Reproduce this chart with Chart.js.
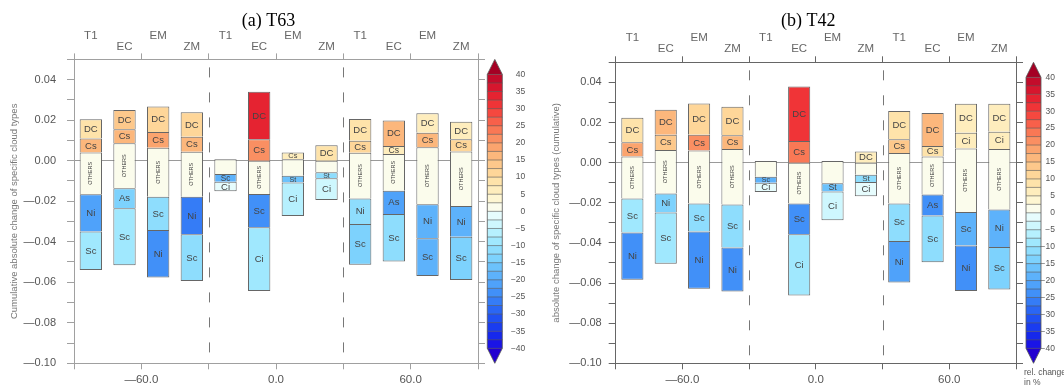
<!DOCTYPE html>
<html>
<head>
<meta charset="utf-8">
<script src="https://cdn.jsdelivr.net/npm/chart.js@4.4.1/dist/chart.umd.min.js"></script>
<style>
html, body { margin: 0; padding: 0; background: #fff; }
#wrap { width: 1064px; height: 386px; display: flex; }
canvas { display: block; }
</style>
</head>
<body>
<div id="wrap">
  <canvas id="cA" width="532" height="386"></canvas>
  <canvas id="cB" width="532" height="386"></canvas>
</div>
<script>
// bar positions (latitude) and the scheme names above them
const lonCenters = [-82.5, -67.5, -52.5, -37.5, -22.5, -7.5, 7.5, 22.5, 37.5, 52.5, 67.5, 82.5];
const schemes = ['T1', 'EC', 'EM', 'ZM', 'T1', 'EC', 'EM', 'ZM', 'T1', 'EC', 'EM', 'ZM'];
const bandEdges = [-30, 30];
const cbLabels = [40, 35, 30, 25, 20, 15, 10, 5, 0, -5, -10, -15, -20, -25, -30, -35, -40];

// colour levels from -40 to 40 in steps of 2.5 (low to high)
const cbColors = [
  '#1A14E6', '#1628EC', '#1A3CF0', '#2050F2', '#2A66F4', '#357CF6', '#4190F8', '#4FA2FA',
  '#5DB2FB', '#6CC2FC', '#7DD2FD', '#8EDDFD', '#A0E8FE', '#B6F0FE', '#CEF7FE', '#E6FCFD',
  '#FBFCEC', '#FEF6D2', '#FEEDBD', '#FEE3AA', '#FED699', '#FDC88B', '#FCB77C', '#FBA46E',
  '#FA8F62', '#F97855', '#F8604A', '#F5483F', '#F03437', '#E52331', '#D6162E', '#C30C2B'
];
const cbUnder = '#2200D0';
const cbOver = '#A50024';

// (a) T63 : cloud types per bar, cumulative edges (top to bottom), relative change in %
const typesT63 = [
  ['DC', 'Cs', 'OTHERS', 'Ni', 'Sc'],
  ['DC', 'Cs', 'OTHERS', 'As', 'Sc'],
  ['DC', 'Cs', 'OTHERS', 'Sc', 'Ni'],
  ['DC', 'Cs', 'OTHERS', 'Ni', 'Sc'],
  ['OTHERS', 'Sc', 'Ci'],
  ['DC', 'Cs', 'OTHERS', 'Sc', 'Ci'],
  ['Cs', 'OTHERS', 'St', 'Ci'],
  ['DC', 'OTHERS', 'St', 'Ci'],
  ['DC', 'Cs', 'OTHERS', 'Ni', 'Sc'],
  ['DC', 'Cs', 'OTHERS', 'As', 'Sc'],
  ['DC', 'Cs', 'OTHERS', 'Ni', 'Sc'],
  ['DC', 'Cs', 'OTHERS', 'Ni', 'Sc']
];
const edgesT63 = [
  [0.0204, 0.0110, 0.0041, -0.0166, -0.0350, -0.0540],
  [0.0250, 0.0155, 0.0086, -0.0136, -0.0235, -0.0516],
  [0.0267, 0.0142, 0.0064, -0.0178, -0.0342, -0.0576],
  [0.0239, 0.0118, 0.0044, -0.0178, -0.0363, -0.0594],
  [0.0007, -0.0066, -0.0104, -0.0151],
  [0.0340, 0.0106, 0.0000, -0.0164, -0.0329, -0.0643],
  [0.0041, 0.0007, -0.0074, -0.0107, -0.0273],
  [0.0076, 0.0000, -0.0057, -0.0087, -0.0194],
  [0.0206, 0.0099, 0.0039, -0.0186, -0.0312, -0.0513],
  [0.0199, 0.0073, 0.0033, -0.0148, -0.0263, -0.0497],
  [0.0234, 0.0138, 0.0066, -0.0215, -0.0383, -0.0569],
  [0.0192, 0.0106, 0.0046, -0.0224, -0.0375, -0.0589]
];
const relT63 = [
  [9, 17, 1, -21, -9],
  [13, 16, 1, -14, -9],
  [11, 19, 1, -12, -25],
  [11, 17, 1, -27, -12],
  [1, -19, -2],
  [33, 21, 1, -24, -9],
  [7, 1, -16, -6],
  [9, 1, -11, -4],
  [9, 11, 1, -11, -14],
  [15, 6, 1, -22, -11],
  [7, 16, 1, -18, -20],
  [7, 11, 1, -19, -14]
];

// (b) T42
const typesT42 = [
  ['DC', 'Cs', 'OTHERS', 'Sc', 'Ni'],
  ['DC', 'Cs', 'OTHERS', 'Ni', 'Sc'],
  ['DC', 'Cs', 'OTHERS', 'Sc', 'Ni'],
  ['DC', 'Cs', 'OTHERS', 'Sc', 'Ni'],
  ['OTHERS', 'Sc', 'Ci'],
  ['DC', 'Cs', 'OTHERS', 'Sc', 'Ci'],
  ['OTHERS', 'St', 'Ci'],
  ['DC', 'OTHERS', 'St', 'Ci'],
  ['DC', 'Cs', 'OTHERS', 'Sc', 'Ni'],
  ['DC', 'Cs', 'OTHERS', 'As', 'Sc'],
  ['DC', 'Ci', 'OTHERS', 'Sc', 'Ni'],
  ['DC', 'Ci', 'OTHERS', 'Ni', 'Sc']
];
const edgesT42 = [
  [0.0224, 0.0101, 0.0030, -0.0179, -0.0348, -0.0584],
  [0.0264, 0.0139, 0.0063, -0.0154, -0.0249, -0.0504],
  [0.0295, 0.0139, 0.0060, -0.0204, -0.0343, -0.0629],
  [0.0279, 0.0137, 0.0068, -0.0209, -0.0423, -0.0642],
  [0.0008, -0.0070, -0.0100, -0.0146],
  [0.0380, 0.0108, 0.0000, -0.0204, -0.0357, -0.0662],
  [0.0008, -0.0103, -0.0144, -0.0287],
  [0.0056, 0.0000, -0.0060, -0.0097, -0.0168],
  [0.0257, 0.0117, 0.0048, -0.0204, -0.0390, -0.0597],
  [0.0247, 0.0083, 0.0030, -0.0159, -0.0264, -0.0496],
  [0.0294, 0.0149, 0.0070, -0.0246, -0.0413, -0.0640],
  [0.0294, 0.0154, 0.0068, -0.0234, -0.0420, -0.0632]
];
const relT42 = [
  [8, 18, 1, -9, -24],
  [15, 13, 1, -14, -9],
  [11, 21, 1, -11, -24],
  [11, 17, 1, -12, -25],
  [1, -19, -2],
  [31, 23, 1, -24, -9],
  [1, -16, -3],
  [6, 1, -12, -2],
  [8, 13, 1, -11, -22],
  [17, 8, 1, -24, -11],
  [7, 6, 1, -18, -24],
  [7, 6, 1, -20, -15]
];

Chart.defaults.font.family = "'Liberation Sans', Arial, sans-serif";

function colorFor(v) {
  const idx = Math.floor((v + 40) / 2.5);
  if (idx < 0) return cbUnder;
  if (idx >= cbColors.length) return cbOver;
  return cbColors[idx];
}

function fmtY(v) {
  const r = Math.round(v * 100);
  if (r % 2 !== 0) return '';
  const s = (Math.abs(r) / 100).toFixed(2);
  return r < 0 ? '\u2014' + s : s;
}

function fmtLon(v) {
  if (v % 60 !== 0) return '';
  return v < 0 ? '\u2014' + Math.abs(v).toFixed(1) : v.toFixed(1);
}

const panelDeco = {
  id: 'panelDeco',
  beforeDatasetsDraw(chart) {
    const {ctx, chartArea: ca, scales: {x}} = chart;
    ctx.save();
    ctx.strokeStyle = '#777';
    ctx.lineWidth = 1;
    ctx.setLineDash([10, 15]);
    bandEdges.forEach(v => {
      const px = Math.round(x.getPixelForValue(v)) + 0.5;
      ctx.beginPath();
      ctx.moveTo(px, ca.top + 8);
      ctx.lineTo(px, ca.bottom);
      ctx.stroke();
    });
    ctx.restore();
  },
  afterDatasetsDraw(chart, args, o) {
    const {ctx, chartArea: ca, scales: {x}} = chart;
    ctx.save();
    // segment labels
    ctx.fillStyle = '#444';
    ctx.textAlign = 'center';
    ctx.textBaseline = 'middle';
    chart.data.datasets.forEach((ds, i) => {
      chart.getDatasetMeta(i).data.forEach((el, k) => {
        const name = o.types[i][k];
        const top = Math.min(el.y, el.base), bot = Math.max(el.y, el.base);
        const h = bot - top, cy = (top + bot) / 2;
        if (name === 'OTHERS') {
          if (h < 30) return;
          ctx.save();
          ctx.translate(el.x, cy);
          ctx.rotate(-Math.PI / 2);
          ctx.font = "5.5px 'Liberation Sans'";
          ctx.fillText('OTHERS', 0, 0);
          ctx.restore();
        } else {
          const fs = Math.max(7, Math.min(9.5, h + 0.5));
          ctx.font = fs + "px 'Liberation Sans'";
          ctx.fillText(name, el.x, cy + 0.5);
        }
      });
    });
    // scheme names above the plot
    ctx.fillStyle = '#666';
    ctx.font = "11.5px 'Liberation Sans'";
    schemes.forEach((s, i) => {
      const px = x.getPixelForValue(lonCenters[i]);
      ctx.fillText(s, px, ca.top - (i % 2 === 0 ? 24 : 13));
    });
    // title
    ctx.fillStyle = '#000';
    ctx.font = "18px 'Liberation Serif'";
    ctx.textBaseline = 'alphabetic';
    ctx.fillText(o.title, (ca.left + ca.right) / 2 - 7.5, 25.5);

    // colour bar
    const w = 15, tri = 15;
    const x0 = ca.right + o.cbGap;
    const y0 = ca.top + tri, y1 = ca.bottom - tri;
    const n = cbColors.length, bh = (y1 - y0) / n;
    for (let k = 0; k < n; k++) {
      ctx.fillStyle = cbColors[n - 1 - k];
      ctx.fillRect(x0, y0 + k * bh, w, bh + 0.3);
    }
    ctx.fillStyle = cbOver;
    ctx.beginPath();
    ctx.moveTo(x0, y0); ctx.lineTo(x0 + w / 2, ca.top); ctx.lineTo(x0 + w, y0);
    ctx.closePath(); ctx.fill();
    ctx.fillStyle = cbUnder;
    ctx.beginPath();
    ctx.moveTo(x0, y1); ctx.lineTo(x0 + w / 2, ca.bottom); ctx.lineTo(x0 + w, y1);
    ctx.closePath(); ctx.fill();
    ctx.strokeStyle = '#555';
    ctx.lineWidth = 0.6;
    for (let k = 0; k <= n; k++) {
      ctx.beginPath();
      ctx.moveTo(x0, y0 + k * bh); ctx.lineTo(x0 + w, y0 + k * bh);
      ctx.stroke();
    }
    ctx.lineWidth = 0.8;
    ctx.beginPath();
    ctx.moveTo(x0, y0); ctx.lineTo(x0 + w / 2, ca.top); ctx.lineTo(x0 + w, y0);
    ctx.lineTo(x0 + w, y1); ctx.lineTo(x0 + w / 2, ca.bottom); ctx.lineTo(x0, y1);
    ctx.closePath(); ctx.stroke();
    ctx.fillStyle = '#555';
    ctx.font = "8.5px 'Liberation Sans'";
    ctx.textAlign = 'right';
    ctx.textBaseline = 'middle';
    cbLabels.forEach(v => {
      const yy = y0 + (40 - v) / 80 * (y1 - y0);
      ctx.fillText(v < 0 ? '\u2212' + Math.abs(v) : String(v), x0 + w + o.cbLabelOff, yy);
    });
    if (o.units) {
      ctx.textAlign = 'left';
      ctx.fillText('rel. change', x0 - 2, ca.bottom + 9);
      ctx.fillText('in %', x0 - 2, ca.bottom + 19);
    }
    ctx.restore();
  }
};

function makePanel(id, p) {
  const datasets = p.types.map((segs, i) => ({
    data: segs.map((t, k) => ({x: lonCenters[i], y: [p.edges[i][k + 1], p.edges[i][k]]})),
    backgroundColor: p.rel[i].map(colorFor),
    borderColor: '#666',
    // one shared line between stacked segments: no bottom edge except on the last one
    borderWidth: c => ({top: 1, left: 1, right: 1, bottom: c.dataIndex === segs.length - 1 ? 1 : 0}),
    borderSkipped: false,
    grouped: false,
    categoryPercentage: 0.8,
    barPercentage: 0.83
  }));
  const ax = p.axisColor;
  return new Chart(document.getElementById(id), {
    type: 'bar',
    data: {datasets},
    options: {
      responsive: false,
      animation: false,
      layout: {padding: {left: 0, right: p.padRight, top: p.padTop, bottom: 0}},
      plugins: {
        legend: {display: false},
        tooltip: {enabled: false},
        panelDeco: {types: p.types, title: p.title, cbGap: p.cbGap, cbLabelOff: p.cbLabelOff, units: p.units}
      },
      scales: {
        x: {
          type: 'linear', position: 'bottom', min: -90, max: 90, offset: false,
          afterFit: s => { s.height = 22.7; },
          border: {color: ax, width: 1},
          grid: {drawOnChartArea: false, offset: false, tickLength: 6, tickColor: ax},
          ticks: {stepSize: 30, autoSkip: false, maxRotation: 0, padding: 4, color: '#555',
                  font: {size: 11.5}, callback: v => fmtLon(v)}
        },
        x2: {
          type: 'linear', position: 'top', min: -90, max: 90, offset: false,
          afterFit: s => { s.height = 6; },
          border: {color: ax, width: 1},
          grid: {drawOnChartArea: false, offset: false, tickLength: 6, tickColor: ax},
          ticks: {stepSize: 30, autoSkip: false, callback: () => ''}
        },
        y: {
          type: 'linear', min: -0.1, max: 0.05,
          afterFit: s => { s.width = p.leftW; },
          border: {color: ax, width: 1},
          grid: {
            color: c => Math.abs(c.tick.value) < 1e-9 ? '#9a9a9a' : 'rgba(0,0,0,0)',
            tickColor: ax, tickLength: 7
          },
          ticks: {stepSize: 0.01, autoSkip: false, padding: p.tickPad, color: '#555',
                  font: {size: 11}, callback: v => fmtY(v)},
          title: {display: true, text: p.yTitle, color: '#777', font: {size: 9.5},
                  padding: {top: p.titlePad, bottom: 0}}
        },
        y2: {
          type: 'linear', position: 'right', min: -0.1, max: 0.05,
          afterFit: s => { s.width = 7; },
          border: {color: ax, width: 1},
          grid: {drawOnChartArea: false, tickColor: ax, tickLength: 7},
          ticks: {stepSize: 0.01, autoSkip: false, callback: () => ''}
        }
      }
    },
    plugins: [panelDeco]
  });
}

makePanel('cA', {
  title: '(a) T63', types: typesT63, edges: edgesT63, rel: relT63,
  yTitle: 'Cumulative absolute change of specific cloud types',
  axisColor: '#a0a0a0', leftW: 74, padRight: 47, padTop: 53.4,
  tickPad: 11, titlePad: 9, cbGap: 9.3, cbLabelOff: 23, units: false
});
makePanel('cB', {
  title: '(b) T42', types: typesT42, edges: edgesT42, rel: relT42,
  yTitle: 'absolute change of specific cloud types (cumulative)',
  axisColor: '#666', leftW: 83.7, padRight: 41, padTop: 56.3,
  tickPad: 7, titlePad: 19, cbGap: 10, cbLabelOff: 14, units: true
});
</script>
</body>
</html>
